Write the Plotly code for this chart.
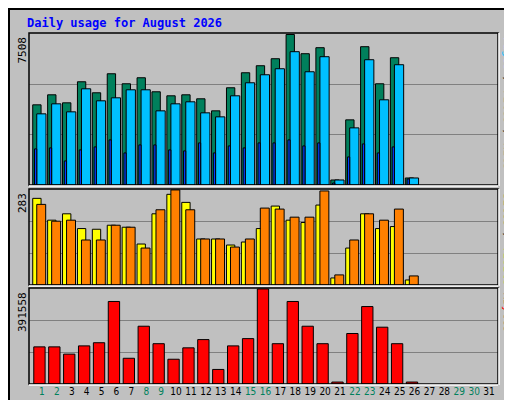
import plotly.graph_objects as go

days = list(range(1, 32))
weekend = [1, 2, 8, 9, 15, 16, 22, 23, 29, 30]

# values (26 days of data)
hits = [4000, 4500, 4100, 5150, 4600, 5550, 5050, 5350, 4650, 4450, 4500, 4300, 3700, 4850,
        5600, 5950, 6300, 7508, 6550, 6850, 250, 3250, 6900, 5050, 6350, 350]
files = [3550, 4050, 3650, 4800, 4200, 4350, 4750, 4750, 3700, 4050, 4150, 3600, 3400, 4450,
         5100, 5500, 5800, 6650, 5650, 6400, 250, 2850, 6250, 4250, 6000, 350]
pages = [1800, 1850, 1200, 1750, 1900, 2250, 1600, 2000, 2000, 1750, 1700, 2100, 1600, 1950,
         1850, 2100, 2100, 2250, 1950, 2100, 100, 1400, 2050, 1600, 1900, 300]
visits = [258, 193, 212, 168, 166, 178, 172, 122, 212, 270, 246, 137, 137, 119, 128, 168,
          235, 193, 186, 238, 21, 110, 212, 168, 174, 15]
sites = [240, 190, 193, 134, 134, 178, 172, 110, 224, 283, 224, 137, 137, 113, 137, 229,
         226, 202, 202, 280, 30, 134, 212, 193, 226, 27]
kbytes = [153000, 153000, 123000, 157000, 170000, 340000, 106000, 238000, 166000, 102000,
          149000, 183000, 60000, 157000, 187000, 391558, 166000, 340000, 238000, 166000,
          8000, 208000, 319000, 234000, 166000, 8000]

n = len(hits)
d = days[:n]

W, H = 512, 400
def px(x): return x / W
def py(y): return 1 - y / H

fig = go.Figure()
ln = dict(color="black", width=1)
fig.add_bar(x=d, y=hits, offset=-0.62, width=0.56, marker=dict(color="#00805C", line=ln), xaxis="x", yaxis="y")
fig.add_bar(x=d, y=files, offset=-0.35, width=0.62, marker=dict(color="#00C0FF", line=ln), xaxis="x", yaxis="y")
fig.add_bar(x=d, y=pages, offset=-0.5, width=0.15, marker=dict(color="#0040FF", line=ln), xaxis="x", yaxis="y")
fig.add_bar(x=d, y=visits, offset=-0.62, width=0.56, marker=dict(color="#FFFF00", line=ln), xaxis="x2", yaxis="y2")
fig.add_bar(x=d, y=sites, offset=-0.35, width=0.6, marker=dict(color="#FF8000", line=ln), xaxis="x2", yaxis="y2")
fig.add_bar(x=d, y=kbytes, offset=-0.55, width=0.76, marker=dict(color="#FF0000", line=ln), xaxis="x3", yaxis="y3")

xr = [0.13, 31.6]
xdom = [px(21), px(490)]
panels = [(25, 177, max(hits)), (181, 277, max(sites)), (280, 376, max(kbytes))]
ticktext = [f"<span style='color:{'#00805C' if x in weekend else 'black'}'>{x}</span>" for x in days]

layout = dict(
    width=W, height=H, margin=dict(l=0, r=0, t=0, b=0),
    paper_bgcolor="#C0C0C0", plot_bgcolor="#C0C0C0",
    barmode="overlay", showlegend=False,
    font=dict(family="DejaVu Sans Mono", size=11, color="black"),
    title=dict(text="<b>Daily usage for August 2026</b>", x=px(19), xanchor="left",
               y=py(15), yanchor="middle", font=dict(color="#0000FF", size=12)),
)
for i, (t, b, m) in enumerate(panels):
    s = "" if i == 0 else str(i + 1)
    layout["xaxis" + s] = dict(domain=xdom, range=xr, showgrid=False, zeroline=False,
                               showticklabels=(i == 2), tickvals=days, ticktext=ticktext,
                               ticks="", tickangle=0, tickfont=dict(size=10, family="Liberation Sans Narrow, DejaVu Sans Condensed"),
                               fixedrange=True, anchor="y" + s)
    layout["yaxis" + s] = dict(domain=[py(b), py(t)], range=[0, m * 1.01],
                               tickvals=[m / 3, 2 * m / 3], showticklabels=False,
                               gridcolor="#808080", gridwidth=1, zeroline=False,
                               anchor="x" + s)
fig.update_layout(**layout)

shapes = [dict(type="rect", xref="paper", yref="paper", x0=px(1), x1=px(511), y0=py(399), y1=py(1),
               line=dict(color="black", width=2)),
          dict(type="line", xref="paper", yref="paper", x0=px(505), x1=px(505), y0=py(8), y1=py(393),
               line=dict(color="#808080", width=2)),
          dict(type="line", xref="paper", yref="paper", x0=px(8), x1=px(505), y0=py(393), y1=py(393),
               line=dict(color="#808080", width=2))]
annotations = []
for (t, b, m) in panels:
    shapes.append(dict(type="rect", xref="paper", yref="paper", x0=xdom[0], x1=xdom[1],
                       y0=py(b), y1=py(t), line=dict(color="black", width=1.5)))
    shapes.append(dict(type="line", xref="paper", yref="paper", x0=xdom[0], x1=xdom[1],
                       y0=py(b + 1), y1=py(b + 1), line=dict(color="white", width=1.5)))
    shapes.append(dict(type="line", xref="paper", yref="paper", x0=xdom[1] + px(1), x1=xdom[1] + px(1),
                       y0=py(b + 1), y1=py(t), line=dict(color="white", width=1.5)))
    annotations.append(dict(text=str(m), textangle=-90, xref="paper", yref="paper",
                            x=px(14), y=py(t + 2), xanchor="center", yanchor="top",
                            showarrow=False, font=dict(size=11)))

right = [
    ("<span style='color:#00C0FF'>Pages</span> / <span style='color:#00805C'>Files</span> / <span style='color:#00805C'>Hits</span>", 25),
    ("<span style='color:#FF8000'>Sites</span> / <span style='color:#FFFF00'>Visits</span>", 181),
    ("<span style='color:#FF0000'>KBytes</span>", 280),
]
for txt, yy in right:
    annotations.append(dict(text=txt, textangle=90, xref="paper", yref="paper",
                            x=px(491), y=py(yy + 2), xanchor="left", yanchor="top",
                            showarrow=False, font=dict(size=11)))
fig.update_layout(shapes=shapes, annotations=annotations)

fig.write_html("out.html")
